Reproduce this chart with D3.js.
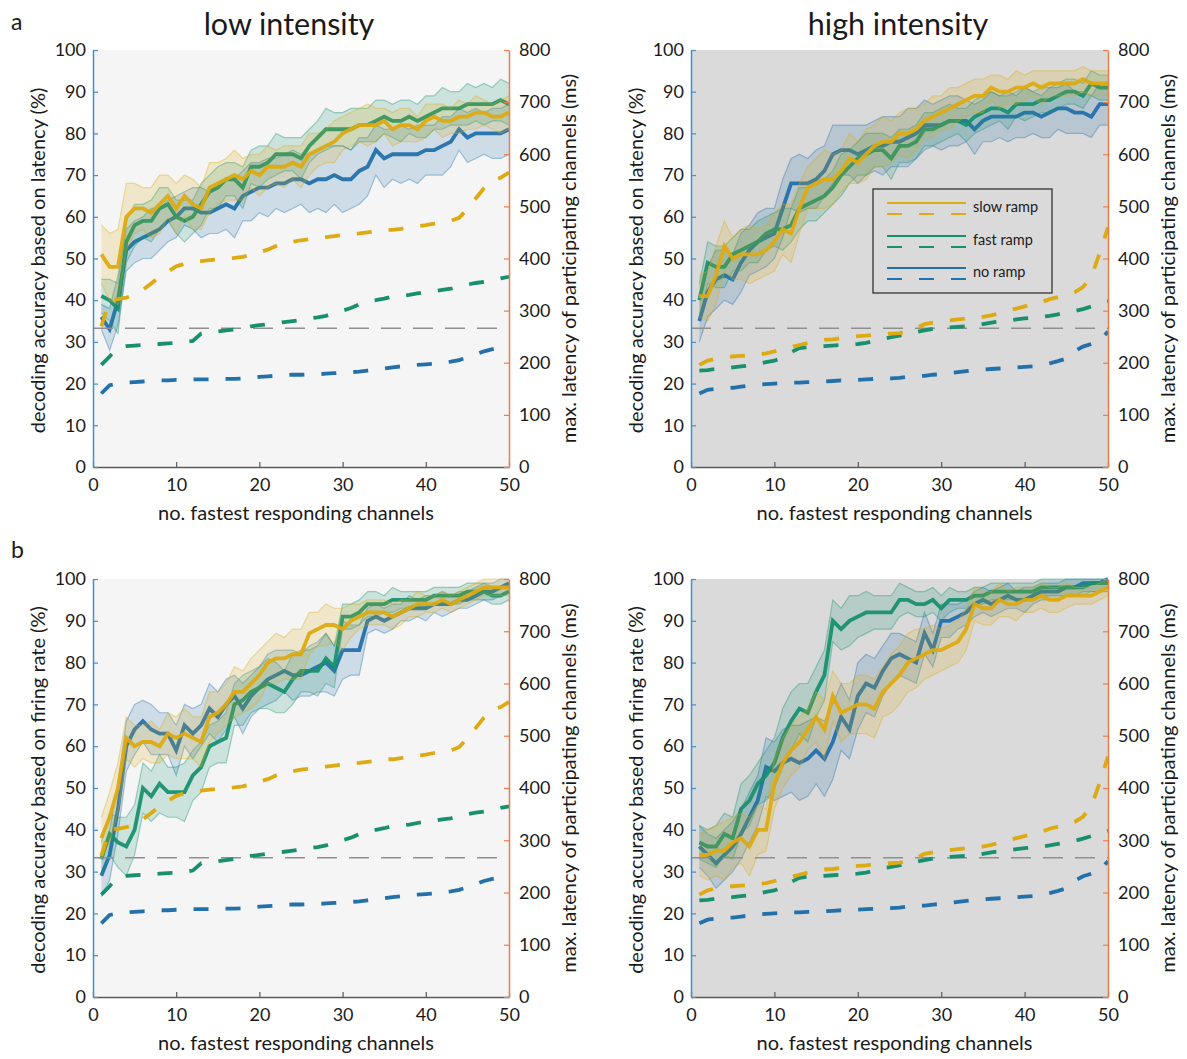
<!DOCTYPE html>
<html><head><meta charset="utf-8">
<script src="https://cdn.jsdelivr.net/npm/d3@7"></script>
<style>
body{margin:0;background:#fff}
svg{display:block}
text{font-family:Lato,"Open Sans",sans-serif;fill:#1a1a1a}
</style>
</head><body>
<svg id="chart" width="1187" height="1059"></svg>
<script>
// ---------- data ----------
const channels = [1,2,3,4,5,6,7,8,9,10,11,12,13,14,15,16,17,18,19,20,21,22,23,24,25,26,27,28,29,30,31,32,33,34,35,36,37,38,39,40,41,42,43,44,45,46,47,48,49,50];
const seriesNames = ["slow ramp","fast ramp","no ramp"];
const colNames = ["low intensity","high intensity"];
const rowLetters = ["a","b"];
const yLabels = ["decoding accuracy based on latency (%)","decoding accuracy based on firing rate (%)"];
const y2Label = "max. latency of participating channels (ms)";
const xLabel = "no. fastest responding channels";
const xTicks = [0,10,20,30,40,50];
const yTicks = [0,10,20,30,40,50,60,70,80,90,100];
const y2Ticks = [0,100,200,300,400,500,600,700,800];
const chanceLevel = 33.3;

// accuracy (%) — a: latency-based, b: firing-rate-based
const latLowSlow = [51,48,48,60,62,62,61,63,65,62,65,63,62,67,68,69,70,69,71,70,72,72,72,73,72,75,76,77,78,80,81,82,82,82,83,81,82,82,81,83,84,83,83,84,84,85,85,84,84,85];
const latLowFast = [41,40,38,54,58,59,59,62,63,60,59,60,63,66,67,69,69,67,72,72,73,75,75,75,74,77,79,81,81,81,81,82,82,83,84,83,83,84,83,84,85,86,86,86,87,87,87,87,88,87];
const latLowNo   = [36,33,40,52,54,55,56,57,59,60,62,62,61,61,62,63,62,65,66,67,67,68,68,69,69,68,69,69,70,69,69,71,72,76,74,75,75,75,75,76,76,77,78,81,79,80,80,80,80,81];
const latHighSlow = [41,41,46,53,50,51,51,51,52,54,57,56,62,67,68,69,69,71,74,73,75,77,78,78,80,80,81,83,84,85,86,87,88,89,89,91,90,90,91,91,92,91,92,92,92,92,93,92,92,92];
const latHighFast = [40,49,48,48,51,52,53,54,56,57,57,58,62,63,64,65,67,70,72,74,75,76,76,74,77,77,78,81,81,82,83,83,82,84,85,86,86,85,87,87,87,88,88,89,90,90,89,92,91,91];
const latHighNo   = [35,42,45,46,45,49,52,54,55,56,62,68,68,68,69,71,75,76,76,75,76,77,77,78,78,79,80,82,82,82,83,83,83,81,83,84,84,84,84,85,85,84,85,86,86,85,85,84,87,87];
const frLowSlow = [38,43,50,62,60,61,61,60,63,62,63,62,61,67,68,70,73,73,75,77,80,81,81,82,82,87,88,89,89,88,90,91,92,92,92,91,92,93,94,94,94,95,94,95,96,97,98,98,98,98];
const frLowFast = [33,39,37,36,40,50,48,51,49,49,49,53,55,60,61,62,70,71,73,74,75,74,73,76,78,78,78,81,79,91,91,92,94,94,94,95,95,95,95,95,96,96,96,96,97,97,97,96,96,97];
const frLowNo   = [29,34,45,60,64,66,64,63,63,59,65,63,65,69,67,70,72,69,72,74,76,77,78,77,77,78,79,80,78,83,83,83,90,91,90,91,92,93,93,93,94,94,94,95,95,96,97,97,98,99];
const frHighSlow = [34,34,35,35,37,38,36,40,40,51,56,59,61,64,67,64,72,68,69,70,70,69,73,75,77,80,81,82,83,83,84,85,88,94,93,93,95,94,94,95,95,96,95,95,96,96,96,96,97,98];
const frHighFast = [37,36,36,39,38,45,47,51,53,56,62,66,69,68,73,77,90,88,90,91,92,92,92,92,95,95,94,94,95,93,95,95,95,96,96,97,97,97,97,97,97,98,98,98,98,98,98,99,99,99];
const frHighNo   = [36,34,32,34,36,39,43,47,55,54,56,57,56,57,59,57,61,67,64,72,75,74,78,81,82,81,80,87,83,90,90,91,92,94,95,94,95,96,95,95,96,97,97,97,98,98,99,99,99,100];

// half-width of the shaded error band (%)
const errLatLowSlow = [7,8,9,8,6,5,6,7,5,6,5,6,5,6,5,5,6,5,4,5,5,4,5,4,5,5,4,4,5,4,4,4,5,4,3,4,4,4,3,4,3,4,3,4,3,4,3,3,4,4];
const errLatLowFast = [4,5,6,5,5,4,5,5,4,4,5,4,5,4,5,4,4,5,4,5,4,5,4,4,5,4,4,5,4,4,5,4,4,5,4,4,5,4,4,5,4,5,4,4,5,4,5,4,5,5];
const errLatLowNo   = [3,5,6,5,5,5,6,5,5,5,4,5,6,5,6,6,7,6,7,6,7,6,7,7,6,7,7,8,7,8,7,8,7,6,7,6,7,6,7,6,6,7,6,5,6,6,5,6,6,6];
const errLatHighSlow = [5,6,7,6,5,6,7,6,6,7,6,7,6,5,6,7,6,5,6,5,6,5,6,5,5,6,5,4,5,4,5,4,4,4,4,3,4,3,4,3,3,4,3,3,3,3,3,3,3,3];
const errLatHighFast = [4,5,5,5,4,5,4,5,4,4,5,4,5,4,5,4,4,5,4,4,5,4,4,5,4,4,4,4,4,4,4,3,4,4,4,4,3,4,3,4,3,3,3,3,3,3,3,3,3,3];
const errLatHighNo   = [5,6,7,6,6,7,6,7,7,6,7,6,7,6,7,6,7,6,6,7,6,6,7,6,6,7,6,6,5,6,6,6,5,6,5,6,5,6,5,6,5,5,6,5,6,5,5,5,5,5];
const errFrLowSlow = [5,6,6,5,5,4,5,4,5,5,6,5,6,6,5,5,6,5,6,6,5,6,5,6,6,5,4,5,4,5,4,3,3,3,3,3,3,2,3,2,2,2,2,2,2,2,2,2,2,2];
const errFrLowFast = [4,5,6,7,6,6,6,7,6,6,7,6,6,5,5,6,5,6,5,5,6,6,5,6,5,5,6,6,5,3,3,3,3,3,2,3,2,2,2,2,2,2,2,2,2,2,2,2,2,2];
const errFrLowNo   = [5,6,6,6,6,5,6,5,5,6,5,6,5,6,6,6,5,6,5,5,6,6,5,6,5,6,6,7,6,7,6,6,3,3,3,3,2,3,2,3,2,3,2,2,2,2,2,2,2,2];
const errFrHighSlow = [5,6,6,7,6,6,7,6,5,6,6,6,6,5,6,7,6,7,6,7,7,7,6,7,7,7,7,6,6,5,5,5,5,4,4,4,4,3,4,3,3,3,3,3,3,2,2,2,2,2];
const errFrHighFast = [4,4,5,5,5,6,6,5,6,6,7,7,6,7,6,6,5,5,6,5,5,4,4,4,4,3,3,3,3,3,3,2,2,2,2,2,2,2,2,2,2,2,2,2,2,2,2,2,2,2];
const errFrHighNo   = [5,5,6,6,6,6,6,6,7,7,8,8,9,9,8,9,9,8,7,8,7,7,6,6,5,5,5,5,4,4,4,3,3,3,3,3,3,3,2,3,2,2,2,2,2,2,2,2,2,2];

// max latency of participating channels (ms)
const msLowSlow = [270,320,322,325,330,340,352,365,375,385,390,393,395,397,398,400,401,403,407,412,417,424,430,432,435,437,439,441,443,445,447,448,450,452,455,455,457,460,462,464,467,470,472,478,495,515,535,550,555,565];
const msLowFast = [196,212,230,232,233,234,235,236,237,238,240,242,256,259,260,262,264,266,270,272,274,276,278,280,282,285,287,290,295,300,305,312,318,320,323,327,328,330,333,336,337,340,342,346,350,353,355,358,362,365];
const msLowNo   = [141,157,160,162,163,164,165,166,166,167,167,168,168,168,169,169,169,170,171,173,174,175,176,177,177,178,178,179,180,181,182,183,185,187,189,191,193,195,196,197,198,200,202,205,210,216,222,226,228,232];
const msHighSlow = [196,204,208,211,212,213,214,216,218,222,226,230,234,238,241,244,245,247,249,251,252,254,255,256,257,260,266,274,277,279,281,283,285,287,288,291,295,300,304,308,312,316,322,326,330,335,345,365,410,460];
const msHighFast = [185,186,188,189,191,193,195,198,201,204,210,220,228,230,231,232,233,234,235,236,238,242,246,249,252,256,259,262,265,267,268,269,270,271,274,277,279,281,283,285,286,288,290,293,296,299,303,308,313,318];
const msHighNo   = [141,148,150,151,152,154,156,158,159,160,161,162,162,163,163,164,165,166,166,167,168,169,170,170,171,173,174,175,177,178,180,182,184,186,187,188,189,190,191,192,193,196,199,203,208,222,231,236,242,260];

// ---------- styling ----------
const colors = {"slow ramp":"#DDAA12","fast ramp":"#18906E","no ramp":"#2370AB"};
const leftAxisColor = "#3E8FD3", rightAxisColor = "#EE7C4A", bottomAxisColor = "#5a5a5a";

const panels = [
  {row:0,col:0,left:93, top:50, w:416,h:417,bg:"#F5F5F5",titleX:289,
   acc:{"slow ramp":latLowSlow,"fast ramp":latLowFast,"no ramp":latLowNo},
   err:{"slow ramp":errLatLowSlow,"fast ramp":errLatLowFast,"no ramp":errLatLowNo},
   ms:{"slow ramp":msLowSlow,"fast ramp":msLowFast,"no ramp":msLowNo}},
  {row:0,col:1,left:691,top:50, w:417,h:417,bg:"#DADADA",legend:true,titleX:898,
   acc:{"slow ramp":latHighSlow,"fast ramp":latHighFast,"no ramp":latHighNo},
   err:{"slow ramp":errLatHighSlow,"fast ramp":errLatHighFast,"no ramp":errLatHighNo},
   ms:{"slow ramp":msHighSlow,"fast ramp":msHighFast,"no ramp":msHighNo}},
  {row:1,col:0,left:93, top:579,w:416,h:418,bg:"#F5F5F5",
   acc:{"slow ramp":frLowSlow,"fast ramp":frLowFast,"no ramp":frLowNo},
   err:{"slow ramp":errFrLowSlow,"fast ramp":errFrLowFast,"no ramp":errFrLowNo},
   ms:{"slow ramp":msLowSlow,"fast ramp":msLowFast,"no ramp":msLowNo}},
  {row:1,col:1,left:691,top:579,w:417,h:418,bg:"#DADADA",
   acc:{"slow ramp":frHighSlow,"fast ramp":frHighFast,"no ramp":frHighNo},
   err:{"slow ramp":errFrHighSlow,"fast ramp":errFrHighFast,"no ramp":errFrHighNo},
   ms:{"slow ramp":msHighSlow,"fast ramp":msHighFast,"no ramp":msHighNo}}
];

const svg = d3.select("#chart");
const drawOrder = ["no ramp","fast ramp","slow ramp"];
const tickFont = 18, labelFont = 20;

panels.forEach((p,i) => {
  const g = svg.append("g");
  const x = d3.scaleLinear().domain([0,50]).range([p.left, p.left+p.w]);
  const y = d3.scaleLinear().domain([0,100]).range([p.top+p.h, p.top]);
  const y2 = d3.scaleLinear().domain([0,800]).range([p.top+p.h, p.top]);

  g.append("rect").attr("x",p.left).attr("y",p.top).attr("width",p.w).attr("height",p.h).attr("fill",p.bg);

  const clipId = "clip"+i;
  svg.append("clipPath").attr("id",clipId).append("rect")
    .attr("x",p.left).attr("y",p.top-2).attr("width",p.w+1).attr("height",p.h+2);
  const plot = g.append("g").attr("clip-path",`url(#${clipId})`);

  drawOrder.forEach(name => {
    const m = p.acc[name], e = p.err[name], c = colors[name];
    const pts = channels.map((ch,k) => ({ch, m:m[k], lo:Math.max(0,m[k]-e[k]), hi:Math.min(100,m[k]+e[k])}));
    plot.append("path").datum(pts)
      .attr("d", d3.area().x(d=>x(d.ch)).y0(d=>y(d.lo)).y1(d=>y(d.hi)))
      .attr("fill", c).attr("fill-opacity", 0.18).attr("stroke","none");
    ["lo","hi"].forEach(k => {
      plot.append("path").datum(pts)
        .attr("d", d3.line().x(d=>x(d.ch)).y(d=>y(d[k])))
        .attr("fill","none").attr("stroke", c).attr("stroke-opacity",0.38).attr("stroke-width",1.2);
    });
    plot.append("path").datum(pts)
      .attr("d", d3.line().x(d=>x(d.ch)).y(d=>y(d.m)))
      .attr("fill","none").attr("stroke", c).attr("stroke-width",3.8)
      .attr("stroke-linejoin","miter").attr("stroke-opacity",0.95);
  });

  // chance level
  plot.append("line").attr("x1",x(0)).attr("x2",x(50)).attr("y1",y(chanceLevel)).attr("y2",y(chanceLevel))
    .attr("stroke","#8f8f8f").attr("stroke-width",1.5).attr("stroke-dasharray","20,12");

  // latency (right axis)
  drawOrder.forEach(name => {
    const v = p.ms[name];
    plot.append("path").datum(channels.map((ch,k)=>({ch, v:v[k]})))
      .attr("d", d3.line().x(d=>x(d.ch)).y(d=>y2(d.v)))
      .attr("fill","none").attr("stroke",colors[name]).attr("stroke-width",3.8)
      .attr("stroke-dasharray","15,17");
  });

  // axes
  const ax = g.append("g").attr("transform",`translate(0,${p.top+p.h})`)
    .call(d3.axisBottom(x).tickValues(xTicks).tickSizeInner(-5).tickSizeOuter(0).tickPadding(11));
  ax.select(".domain").attr("stroke",bottomAxisColor).attr("stroke-width",1.5);
  ax.selectAll(".tick line").attr("stroke",bottomAxisColor).attr("stroke-width",1.2);
  ax.selectAll(".tick text").attr("font-size",tickFont).attr("font-family","Lato").attr("fill","#1a1a1a");

  const ay = g.append("g").attr("transform",`translate(${p.left},0)`)
    .call(d3.axisLeft(y).tickValues(yTicks).tickSizeInner(-5).tickSizeOuter(0).tickPadding(7));
  ay.select(".domain").attr("stroke",leftAxisColor).attr("stroke-width",1.5);
  ay.selectAll(".tick line").attr("stroke",leftAxisColor).attr("stroke-width",1.2);
  ay.selectAll(".tick text").attr("font-size",tickFont).attr("font-family","Lato").attr("fill","#1a1a1a");

  const ay2 = g.append("g").attr("transform",`translate(${p.left+p.w},0)`)
    .call(d3.axisRight(y2).tickValues(y2Ticks).tickSizeInner(-5).tickSizeOuter(0).tickPadding(10));
  ay2.select(".domain").attr("stroke",rightAxisColor).attr("stroke-width",1.5);
  ay2.selectAll(".tick line").attr("stroke",rightAxisColor).attr("stroke-width",1.2);
  ay2.selectAll(".tick text").attr("font-size",tickFont).attr("font-family","Lato").attr("fill","#1a1a1a");

  // labels
  g.append("text").attr("x", p.left + p.w/2 - 5).attr("y", p.top+p.h+53)
    .attr("text-anchor","middle").attr("font-size",labelFont).text(xLabel);
  g.append("text").attr("transform",`translate(${p.left-48},${p.top+p.h/2 + 2}) rotate(-90)`)
    .attr("text-anchor","middle").attr("font-size",labelFont).text(yLabels[p.row]);
  g.append("text").attr("transform",`translate(${p.left+p.w+67},${p.top+p.h/2}) rotate(-90)`)
    .attr("text-anchor","middle").attr("font-size",labelFont).text(y2Label);

  if (p.row === 0) {
    g.append("text").attr("x", p.titleX).attr("y", 35)
      .attr("text-anchor","middle").attr("font-size",30.5).text(colNames[p.col]);
  }
  if (p.col === 0) {
    g.append("text").attr("x", 11).attr("y", p.row===0 ? 30 : 558)
      .attr("font-size",23).text(rowLetters[p.row]);
  }

  if (p.legend) {
    const lg = g.append("g");
    const bx = 873, by = 189, bw = 179, bh = 104;
    lg.append("rect").attr("x",bx).attr("y",by).attr("width",bw).attr("height",bh)
      .attr("fill","#DADADA").attr("stroke","#333").attr("stroke-width",1.3);
    seriesNames.forEach((name,k) => {
      const yy = [203,236,268][k];
      lg.append("line").attr("x1",887).attr("x2",966).attr("y1",yy).attr("y2",yy)
        .attr("stroke",colors[name]).attr("stroke-width",2.2);
      lg.append("line").attr("x1",887).attr("x2",966).attr("y1",yy+11).attr("y2",yy+11)
        .attr("stroke",colors[name]).attr("stroke-width",2.2).attr("stroke-dasharray","15,17");
      lg.append("text").attr("x",973).attr("y",yy+9).attr("font-size",14.5).text(name);
    });
  }
});
</script>
</body></html>
